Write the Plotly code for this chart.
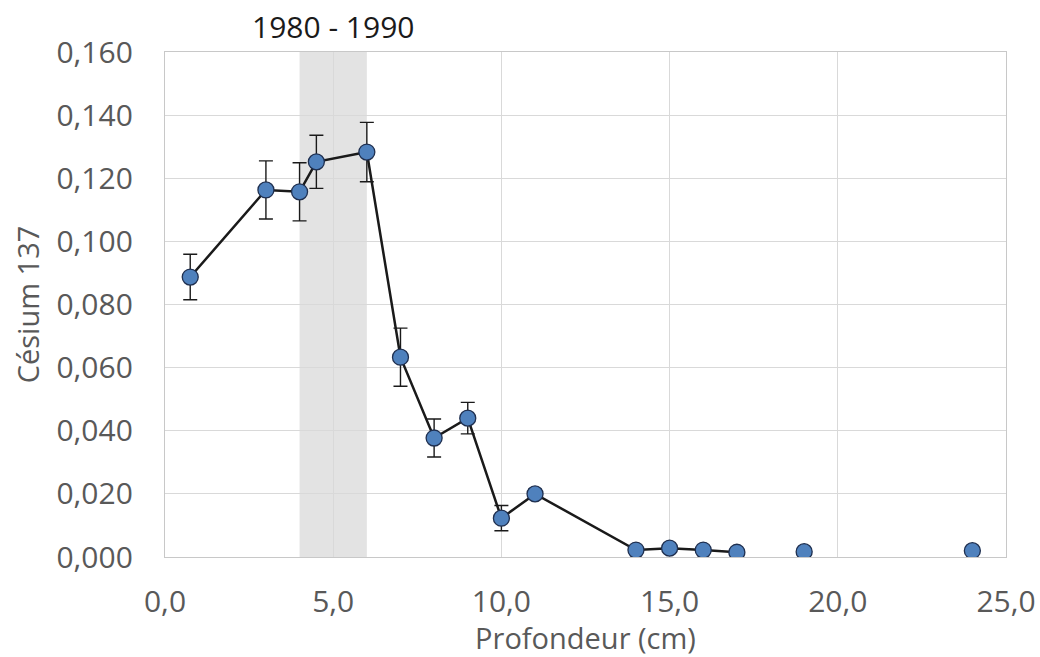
import plotly.graph_objects as go

# Depth profile (cm) and Cs-137 activity with measurement uncertainty
depth = [0.75, 3.0, 4.0, 4.5, 6.0, 7.0, 8.0, 9.0, 10.0, 11.0, 14.0, 15.0, 16.0, 17.0]
cesium = [0.0887, 0.1163, 0.1157, 0.1252, 0.1283, 0.0633, 0.0377, 0.0440, 0.0123, 0.0200,
          0.0022, 0.0028, 0.0022, 0.0015]
cesium_err = [0.0072, 0.0092, 0.0092, 0.0084, 0.0094, 0.0092, 0.0060, 0.0050, 0.0040, 0.0015,
              0, 0, 0, 0]

# Deeper samples plotted without connecting line
depth_deep = [19.0, 24.0]
cesium_deep = [0.0017, 0.0020]

# Dated horizon band
band_start, band_end = 4.0, 6.0
band_label = "1980 - 1990"

x_ticks = [0, 5, 10, 15, 20, 25]
x_ticklabels = ["0,0", "5,0", "10,0", "15,0", "20,0", "25,0"]
y_ticks = [0, 0.02, 0.04, 0.06, 0.08, 0.10, 0.12, 0.14, 0.16]
y_ticklabels = ["0,000", "0,020", "0,040", "0,060", "0,080", "0,100", "0,120", "0,140", "0,160"]

FONT = "Open Sans"
TXT = "#595959"
marker_style = dict(size=16, color="#4f81bd", line=dict(color="#1f2f4f", width=1.3))

fig = go.Figure()

fig.add_vrect(x0=band_start, x1=band_end, fillcolor="#e3e3e3", opacity=1,
              line_width=0, layer="below")

fig.add_trace(go.Scatter(
    x=depth, y=cesium, mode="lines+markers",
    line=dict(color="#1a1a1a", width=2.5),
    marker=marker_style,
    error_y=dict(type="data", array=cesium_err, visible=True,
                 color="#1a1a1a", thickness=1.4, width=7),
    showlegend=False,
))

fig.add_trace(go.Scatter(
    x=depth_deep, y=cesium_deep, mode="markers",
    marker=marker_style, showlegend=False,
))

fig.add_annotation(x=(band_start + band_end) / 2, y=1, yref="paper", yanchor="bottom",
                   text=band_label, showarrow=False, yshift=3,
                   font=dict(family=FONT, size=30, color="#1a1a1a"))

fig.update_layout(
    width=1040, height=657,
    margin=dict(l=165, r=34, t=52, b=100, autoexpand=False),
    paper_bgcolor="white", plot_bgcolor="white",
    font=dict(family=FONT, color=TXT),
)

fig.update_xaxes(
    range=[0, 25], tickvals=x_ticks, ticktext=x_ticklabels,
    tickfont=dict(size=30, color=TXT), automargin=False,
    showgrid=True, gridcolor="#d9d9d9", gridwidth=1.3,
    showline=True, linecolor="#c8c8c8", linewidth=1.3, mirror=True,
    zeroline=False, ticks="", ticklabelstandoff=18,
    title=dict(text="Profondeur (cm)", font=dict(size=29, color=TXT), standoff=2),
)
fig.update_yaxes(
    range=[0, 0.16], tickvals=y_ticks, ticktext=y_ticklabels,
    tickfont=dict(size=30, color=TXT), automargin=False,
    showgrid=True, gridcolor="#d9d9d9", gridwidth=1.3,
    showline=True, linecolor="#c8c8c8", linewidth=1.3, mirror=True,
    zeroline=False, ticks="", ticklabelstandoff=25,
    title=dict(text="Césium 137", font=dict(size=29, color=TXT), standoff=8),
)

fig.write_html("out.html")
